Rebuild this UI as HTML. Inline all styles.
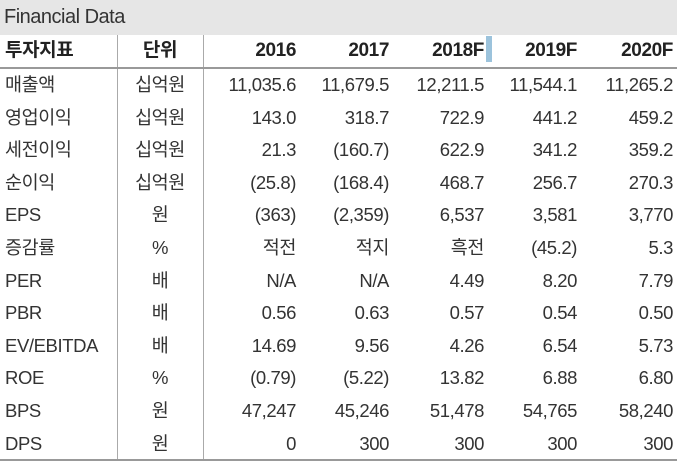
<!DOCTYPE html>
<html><head><meta charset="utf-8"><style>
body{margin:0;width:684px;height:462px;background:#fff;overflow:hidden;position:relative;font-family:"Liberation Sans","Noto Sans CJK KR",sans-serif;color:#333}
.t{position:absolute;left:0;top:0;width:677px;height:35px;background:#e6e6e6;font-size:20px;line-height:35px;padding-left:4px;box-sizing:border-box;letter-spacing:-0.5px}
.row{position:absolute;left:0;width:677px;height:32.6px;font-size:18.5px;line-height:32.6px}
.row div{position:absolute;top:0;white-space:nowrap;letter-spacing:-0.4px}
.c0{left:5px}.c1{left:117px;width:86px;text-align:center}
.c2{right:381px}.c3{right:288px}.c4{right:193px}.c5{right:100px}.c6{right:4px}
.h{font-weight:bold;font-size:19px;color:#222}
.v{position:absolute;width:1px;background:#aaa;top:35px;height:425px}
</style></head><body>
<div class="t">Financial Data</div>
<div class="v" style="left:117px"></div><div class="v" style="left:203px"></div>
<div style="position:absolute;left:0;top:67px;width:677px;height:2px;background:#999"></div>
<div style="position:absolute;left:0;top:459px;width:677px;height:2px;background:#999"></div>
<div style="position:absolute;left:486px;top:36px;width:6px;height:26px;background:#9cc3dc"></div>
<div class="row h" style="top:35px"><div class="c0">투자지표</div><div class="c1">단위</div><div class="c2">2016</div><div class="c3">2017</div><div class="c4">2018F</div><div class="c5">2019F</div><div class="c6">2020F</div></div>
<div class="row" style="top:69px"><div class="c0">매출액</div><div class="c1">십억원</div><div class="c2">11,035.6</div><div class="c3">11,679.5</div><div class="c4">12,211.5</div><div class="c5">11,544.1</div><div class="c6">11,265.2</div></div>
<div class="row" style="top:101.6px"><div class="c0">영업이익</div><div class="c1">십억원</div><div class="c2">143.0</div><div class="c3">318.7</div><div class="c4">722.9</div><div class="c5">441.2</div><div class="c6">459.2</div></div>
<div class="row" style="top:134.2px"><div class="c0">세전이익</div><div class="c1">십억원</div><div class="c2">21.3</div><div class="c3">(160.7)</div><div class="c4">622.9</div><div class="c5">341.2</div><div class="c6">359.2</div></div>
<div class="row" style="top:166.8px"><div class="c0">순이익</div><div class="c1">십억원</div><div class="c2">(25.8)</div><div class="c3">(168.4)</div><div class="c4">468.7</div><div class="c5">256.7</div><div class="c6">270.3</div></div>
<div class="row" style="top:199.4px"><div class="c0">EPS</div><div class="c1">원</div><div class="c2">(363)</div><div class="c3">(2,359)</div><div class="c4">6,537</div><div class="c5">3,581</div><div class="c6">3,770</div></div>
<div class="row" style="top:232px"><div class="c0">증감률</div><div class="c1">%</div><div class="c2">적전</div><div class="c3">적지</div><div class="c4">흑전</div><div class="c5">(45.2)</div><div class="c6">5.3</div></div>
<div class="row" style="top:264.6px"><div class="c0">PER</div><div class="c1">배</div><div class="c2">N/A</div><div class="c3">N/A</div><div class="c4">4.49</div><div class="c5">8.20</div><div class="c6">7.79</div></div>
<div class="row" style="top:297.2px"><div class="c0">PBR</div><div class="c1">배</div><div class="c2">0.56</div><div class="c3">0.63</div><div class="c4">0.57</div><div class="c5">0.54</div><div class="c6">0.50</div></div>
<div class="row" style="top:329.8px"><div class="c0">EV/EBITDA</div><div class="c1">배</div><div class="c2">14.69</div><div class="c3">9.56</div><div class="c4">4.26</div><div class="c5">6.54</div><div class="c6">5.73</div></div>
<div class="row" style="top:362.4px"><div class="c0">ROE</div><div class="c1">%</div><div class="c2">(0.79)</div><div class="c3">(5.22)</div><div class="c4">13.82</div><div class="c5">6.88</div><div class="c6">6.80</div></div>
<div class="row" style="top:395px"><div class="c0">BPS</div><div class="c1">원</div><div class="c2">47,247</div><div class="c3">45,246</div><div class="c4">51,478</div><div class="c5">54,765</div><div class="c6">58,240</div></div>
<div class="row" style="top:427.6px"><div class="c0">DPS</div><div class="c1">원</div><div class="c2">0</div><div class="c3">300</div><div class="c4">300</div><div class="c5">300</div><div class="c6">300</div></div>
</body></html>
